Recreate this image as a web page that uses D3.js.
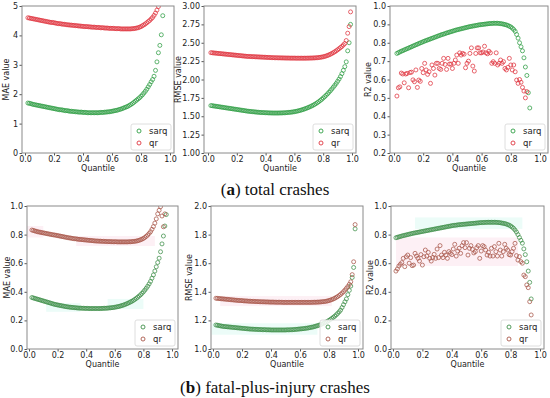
<!DOCTYPE html>
<html>
<head>
<meta charset="utf-8">
<script src="https://cdn.jsdelivr.net/npm/d3@7"></script>
<style>
  body { margin: 0; background: #fff; }
</style>
</head>
<body>
<svg id="chart" width="550" height="398"></svg>
<script>
// quantile levels shared by every series (values list index -> quantile)
var quantiles = [0.02,0.03,0.04,0.05,0.06,0.07,0.08,0.09,0.10,0.11,
  0.12,0.13,0.14,0.15,0.16,0.17,0.18,0.19,0.20,0.21,
  0.22,0.23,0.24,0.25,0.26,0.27,0.28,0.29,0.30,0.31,
  0.32,0.33,0.34,0.35,0.36,0.37,0.38,0.39,0.40,0.41,
  0.42,0.43,0.44,0.45,0.46,0.47,0.48,0.49,0.50,0.51,
  0.52,0.53,0.54,0.55,0.56,0.57,0.58,0.59,0.60,0.61,
  0.62,0.63,0.64,0.65,0.66,0.67,0.68,0.69,0.70,0.71,
  0.72,0.73,0.74,0.75,0.76,0.77,0.78,0.79,0.80,0.81,
  0.82,0.83,0.84,0.85,0.86,0.87,0.88,0.89,0.90,0.91,
  0.92,0.93,0.94,0.95,0.96,0.97,0.98,0.99]

// (a) total crashes
var maeTotalSarq = [1.70,1.69,1.68,1.66,1.65,1.64,1.63,1.62,1.61,1.60,
  1.59,1.58,1.57,1.56,1.55,1.54,1.53,1.52,1.51,1.50,
  1.49,1.48,1.47,1.47,1.46,1.45,1.44,1.44,1.43,1.42,
  1.42,1.41,1.41,1.40,1.40,1.39,1.39,1.39,1.38,1.38,
  1.38,1.37,1.37,1.37,1.37,1.37,1.37,1.37,1.37,1.37,
  1.38,1.38,1.38,1.39,1.39,1.40,1.40,1.41,1.42,1.43,
  1.44,1.45,1.46,1.48,1.49,1.51,1.53,1.55,1.57,1.59,
  1.62,1.65,1.68,1.72,1.76,1.80,1.84,1.88,1.93,1.98,
  2.04,2.10,2.17,2.25,2.33,2.42,2.50,2.61,2.81,3.10,
  3.41,3.66,4.02,4.67]
var maeTotalQr = [4.60,4.59,4.58,4.57,4.56,4.55,4.54,4.53,4.52,4.51,
  4.50,4.49,4.48,4.47,4.46,4.45,4.44,4.44,4.43,4.42,
  4.41,4.40,4.40,4.39,4.38,4.38,4.37,4.36,4.36,4.35,
  4.35,4.34,4.34,4.33,4.33,4.32,4.32,4.31,4.31,4.30,
  4.30,4.30,4.29,4.29,4.28,4.28,4.28,4.27,4.27,4.27,
  4.26,4.26,4.26,4.25,4.25,4.25,4.24,4.24,4.24,4.24,
  4.23,4.23,4.23,4.23,4.22,4.22,4.22,4.22,4.22,4.22,
  4.22,4.22,4.23,4.23,4.24,4.25,4.26,4.28,4.30,4.33,
  4.36,4.39,4.43,4.47,4.51,4.56,4.61,4.68,4.76,4.86,
  4.98]
var rmseTotalSarq = [1.645,1.643,1.640,1.637,1.634,1.631,1.628,1.625,1.622,1.619,
  1.616,1.613,1.610,1.607,1.604,1.601,1.598,1.595,1.592,1.589,
  1.586,1.583,1.580,1.577,1.574,1.571,1.568,1.566,1.564,1.562,
  1.560,1.558,1.556,1.554,1.552,1.551,1.550,1.549,1.548,1.547,
  1.546,1.545,1.545,1.544,1.544,1.544,1.544,1.544,1.545,1.545,
  1.546,1.547,1.548,1.550,1.552,1.554,1.556,1.559,1.562,1.566,
  1.570,1.575,1.580,1.586,1.592,1.599,1.606,1.614,1.622,1.631,
  1.640,1.650,1.661,1.673,1.686,1.700,1.715,1.731,1.748,1.766,
  1.785,1.805,1.826,1.848,1.871,1.895,1.920,1.946,1.975,2.005,
  2.040,2.080,2.125,2.175,2.240,2.390,2.500,2.750]
var rmseTotalQr = [2.365,2.363,2.361,2.359,2.357,2.355,2.353,2.351,2.349,2.347,
  2.345,2.343,2.341,2.339,2.337,2.335,2.333,2.331,2.329,2.327,
  2.325,2.323,2.321,2.319,2.317,2.315,2.314,2.313,2.312,2.311,
  2.310,2.309,2.308,2.307,2.306,2.305,2.304,2.303,2.302,2.301,
  2.300,2.299,2.298,2.297,2.296,2.296,2.295,2.295,2.294,2.294,
  2.293,2.293,2.292,2.292,2.292,2.291,2.291,2.291,2.291,2.290,
  2.290,2.290,2.290,2.290,2.290,2.290,2.290,2.291,2.291,2.292,
  2.292,2.293,2.294,2.295,2.297,2.299,2.302,2.305,2.309,2.314,
  2.320,2.327,2.335,2.344,2.354,2.365,2.377,2.390,2.404,2.419,
  2.435,2.450,2.470,2.490,2.530,2.630,2.720,2.920]
var r2TotalSarq = [0.742,0.746,0.750,0.754,0.757,0.761,0.764,0.768,0.771,0.775,
  0.778,0.782,0.785,0.789,0.792,0.796,0.799,0.802,0.806,0.809,
  0.812,0.815,0.818,0.821,0.824,0.827,0.830,0.833,0.836,0.839,
  0.842,0.845,0.847,0.850,0.853,0.855,0.858,0.860,0.863,0.865,
  0.868,0.870,0.872,0.874,0.876,0.878,0.880,0.882,0.884,0.886,
  0.888,0.889,0.891,0.892,0.894,0.895,0.897,0.898,0.899,0.900,
  0.901,0.902,0.903,0.904,0.905,0.905,0.906,0.906,0.906,0.906,
  0.905,0.904,0.903,0.901,0.899,0.897,0.894,0.890,0.886,0.880,
  0.872,0.862,0.845,0.825,0.800,0.778,0.756,0.718,0.668,0.622,
  0.528,0.445]
var r2TotalQr = [0.510,0.555,0.560,0.635,0.630,0.582,0.630,0.633,0.555,0.638,
  0.640,0.598,0.588,0.652,0.557,0.597,0.590,0.660,0.637,0.688,
  0.652,0.628,0.642,0.579,0.679,0.660,0.624,0.688,0.688,0.660,
  0.655,0.688,0.715,0.682,0.655,0.715,0.684,0.684,0.660,0.688,
  0.706,0.733,0.688,0.745,0.733,0.742,0.738,0.664,0.688,0.700,
  0.742,0.772,0.673,0.646,0.742,0.772,0.772,0.745,0.745,0.750,
  0.781,0.745,0.740,0.754,0.745,0.688,0.697,0.688,0.745,0.679,
  0.688,0.706,0.688,0.697,0.660,0.652,0.666,0.715,0.679,0.652,
  0.679,0.642,0.597,0.579,0.600,0.585,0.557,0.537,0.500,0.534]

// (b) fatal-plus-injury crashes
var maeFatalSarq = [0.360,0.357,0.354,0.351,0.348,0.345,0.342,0.339,0.336,0.333,
  0.330,0.327,0.324,0.321,0.318,0.315,0.312,0.310,0.308,0.306,
  0.304,0.302,0.300,0.298,0.296,0.295,0.293,0.292,0.291,0.290,
  0.289,0.288,0.287,0.286,0.286,0.285,0.285,0.284,0.284,0.284,
  0.283,0.283,0.283,0.283,0.283,0.283,0.283,0.283,0.283,0.284,
  0.284,0.285,0.285,0.286,0.287,0.288,0.289,0.290,0.292,0.294,
  0.296,0.298,0.301,0.304,0.307,0.311,0.315,0.319,0.324,0.329,
  0.334,0.340,0.347,0.354,0.362,0.370,0.379,0.389,0.400,0.412,
  0.425,0.439,0.455,0.473,0.495,0.518,0.545,0.575,0.605,0.635,
  0.680,0.735,0.790,0.860,0.940]
var maeFatalQr = [0.832,0.829,0.826,0.823,0.820,0.818,0.816,0.814,0.812,0.810,
  0.808,0.806,0.804,0.802,0.800,0.798,0.797,0.795,0.793,0.791,
  0.789,0.787,0.785,0.783,0.781,0.779,0.777,0.776,0.774,0.772,
  0.771,0.770,0.768,0.767,0.766,0.765,0.764,0.763,0.762,0.761,
  0.760,0.759,0.758,0.757,0.756,0.755,0.755,0.754,0.754,0.753,
  0.753,0.752,0.752,0.751,0.751,0.751,0.750,0.750,0.750,0.750,
  0.749,0.749,0.749,0.749,0.749,0.749,0.749,0.749,0.750,0.750,
  0.751,0.752,0.753,0.755,0.757,0.760,0.764,0.768,0.773,0.780,
  0.788,0.797,0.808,0.820,0.837,0.856,0.880,0.910,0.945,0.970,
  0.995,0.930,0.855,0.945]
var rmseFatalSarq = [1.168,1.166,1.164,1.162,1.160,1.158,1.157,1.156,1.155,1.154,
  1.153,1.152,1.151,1.150,1.149,1.148,1.147,1.146,1.145,1.144,
  1.143,1.142,1.141,1.140,1.139,1.139,1.138,1.138,1.137,1.137,
  1.136,1.136,1.135,1.135,1.135,1.134,1.134,1.134,1.133,1.133,
  1.133,1.133,1.133,1.133,1.133,1.133,1.133,1.133,1.133,1.134,
  1.134,1.134,1.135,1.135,1.136,1.137,1.138,1.139,1.140,1.141,
  1.142,1.143,1.145,1.146,1.148,1.150,1.152,1.154,1.157,1.160,
  1.163,1.166,1.170,1.174,1.178,1.183,1.188,1.194,1.200,1.207,
  1.214,1.222,1.230,1.239,1.249,1.260,1.272,1.290,1.310,1.330,
  1.350,1.380,1.410,1.440,1.500,1.570,1.840]
var rmseFatalQr = [1.355,1.354,1.353,1.352,1.351,1.350,1.349,1.348,1.347,1.346,
  1.345,1.344,1.343,1.342,1.341,1.340,1.339,1.339,1.338,1.337,
  1.336,1.336,1.335,1.334,1.334,1.333,1.333,1.332,1.332,1.331,
  1.331,1.330,1.330,1.330,1.329,1.329,1.329,1.328,1.328,1.328,
  1.328,1.327,1.327,1.327,1.327,1.327,1.326,1.326,1.326,1.326,
  1.326,1.326,1.326,1.326,1.326,1.326,1.326,1.326,1.326,1.326,
  1.326,1.326,1.326,1.326,1.326,1.326,1.326,1.327,1.327,1.327,
  1.328,1.328,1.329,1.330,1.331,1.332,1.334,1.336,1.339,1.342,
  1.346,1.350,1.355,1.361,1.367,1.374,1.382,1.391,1.401,1.412,
  1.424,1.437,1.452,1.470,1.520,1.610,1.870]
var r2FatalSarq = [0.778,0.781,0.784,0.787,0.790,0.793,0.795,0.798,0.800,0.803,
  0.805,0.808,0.810,0.812,0.814,0.816,0.818,0.820,0.822,0.824,
  0.826,0.828,0.830,0.832,0.834,0.836,0.838,0.840,0.842,0.844,
  0.846,0.848,0.850,0.852,0.854,0.856,0.858,0.860,0.862,0.864,
  0.865,0.866,0.868,0.869,0.870,0.871,0.872,0.873,0.874,0.875,
  0.876,0.877,0.878,0.879,0.880,0.881,0.882,0.883,0.884,0.884,
  0.885,0.885,0.886,0.886,0.886,0.886,0.886,0.886,0.886,0.885,
  0.884,0.883,0.881,0.879,0.877,0.874,0.870,0.866,0.860,0.853,
  0.844,0.832,0.818,0.800,0.780,0.760,0.740,0.700,0.660,0.610,
  0.545,0.466,0.350]
var r2FatalQr = [0.545,0.560,0.580,0.592,0.604,0.634,0.576,0.645,0.657,0.600,
  0.639,0.583,0.587,0.669,0.650,0.634,0.615,0.660,0.587,0.645,
  0.692,0.650,0.676,0.634,0.615,0.640,0.662,0.634,0.699,0.639,
  0.723,0.657,0.639,0.676,0.657,0.634,0.681,0.669,0.660,0.699,
  0.732,0.650,0.685,0.704,0.669,0.723,0.744,0.709,0.744,0.657,
  0.704,0.723,0.697,0.672,0.681,0.709,0.723,0.634,0.685,0.723,
  0.716,0.692,0.657,0.676,0.650,0.704,0.650,0.716,0.681,0.650,
  0.739,0.692,0.650,0.681,0.732,0.704,0.692,0.660,0.657,0.681,
  0.704,0.739,0.653,0.622,0.646,0.611,0.600,0.517,0.506,0.448,
  0.429,0.331,0.238]

// tick labels
var xTicks = [0, 0.2, 0.4, 0.6, 0.8, 1.0]
var yTicksMaeTotal = [0, 1, 2, 3, 4, 5]
var yTicksRmseTotal = [1.00, 1.25, 1.50, 1.75, 2.00, 2.25, 2.50, 2.75, 3.00]
var yTicksR2Total = [0.2, 0.3, 0.4, 0.5, 0.6, 0.7, 0.8, 0.9, 1.0]
var yTicksUnit = [0.0, 0.2, 0.4, 0.6, 0.8, 1.0]
var yTicksRmseFatal = [1.0, 1.2, 1.4, 1.6, 1.8, 2.0]
var seriesNames = ["sarq", "qr"]
var captions = [
  { letter: "a", text: " total crashes" },
  { letter: "b", text: " fatal-plus-injury crashes" }
]

var sans = "'DejaVu Sans', sans-serif"
var topColors = ["#2f9e44", "#e0353f"]
var botColors = ["#3f8f4a", "#a8574a"]
var pink = "#fdf0f5", cyan = "#ecfcf8"

// layout of the six axes (pixel boxes)
var panels = [
  { sarq: maeTotalSarq, qr: maeTotalQr, label: "MAE value", ylim: [0, 5], yt: yTicksMaeTotal, fmt: d3.format("d"),
    l: 22, r: 174, t: 6, b: 153, x0: 25, x1: 170, lx: 6, colors: topColors },
  { sarq: rmseTotalSarq, qr: rmseTotalQr, label: "RMSE value", ylim: [1, 3], yt: yTicksRmseTotal, fmt: d3.format(".2f"),
    l: 204, r: 356, t: 6, b: 153, x0: 208, x1: 352, lx: 178, colors: topColors },
  { sarq: r2TotalSarq, qr: r2TotalQr, label: "R2 value", ylim: [0.2, 1.0], yt: yTicksR2Total, fmt: d3.format(".1f"),
    l: 390, r: 548, t: 6, b: 153, x0: 394, x1: 540, lx: 368, colors: topColors },
  { sarq: maeFatalSarq, qr: maeFatalQr, label: "MAE value", ylim: [0, 1], yt: yTicksUnit, fmt: d3.format(".1f"),
    l: 27, r: 178, t: 206, b: 349, x0: 29, x1: 172, lx: 7, colors: botColors,
    bands: [[pink, -0.02, 0.10, 0.78, 0.86], [pink, 0.33, 0.88, 0.72, 0.79],
            [cyan, 0.12, 0.36, 0.26, 0.32], [cyan, 0.55, 0.80, 0.28, 0.35]] },
  { sarq: rmseFatalSarq, qr: rmseFatalQr, label: "RMSE value", ylim: [1, 2], yt: yTicksRmseFatal, fmt: d3.format(".1f"),
    l: 211, r: 363, t: 206, b: 349, x0: 213, x1: 358, lx: 189, colors: botColors,
    bands: [[pink, 0.05, 0.82, 1.30, 1.37], [cyan, -0.01, 0.72, 1.10, 1.18]] },
  { sarq: r2FatalSarq, qr: r2FatalQr, label: "R2 value", ylim: [0, 1], yt: yTicksUnit, fmt: d3.format(".1f"),
    l: 391, r: 544, t: 206, b: 349, x0: 393, x1: 540, lx: 370, colors: botColors,
    bands: [[cyan, 0.15, 0.88, 0.84, 0.92], [pink, 0.02, 0.85, 0.58, 0.78]] }
]

var svg = d3.select("#chart")

panels.forEach(function (p, k) {
  var x = d3.scaleLinear().domain([0, 1]).range([p.x0, p.x1])
  var y = d3.scaleLinear().domain(p.ylim).range([p.b, p.t])
  var g = svg.append("g")

  g.append("clipPath").attr("id", "clip" + k)
    .append("rect").attr("x", p.l).attr("y", p.t).attr("width", p.r - p.l).attr("height", p.b - p.t)

  // faint highlight patches seen behind the curves in row (b)
  ;(p.bands || []).forEach(function (bd) {
    g.append("rect")
      .attr("clip-path", "url(#clip" + k + ")")
      .attr("x", x(bd[1])).attr("width", x(bd[2]) - x(bd[1]))
      .attr("y", y(bd[4])).attr("height", y(bd[3]) - y(bd[4]))
      .attr("fill", bd[0])
  })

  // axes
  var xa = g.append("g").attr("transform", "translate(0," + p.b + ")")
    .call(d3.axisBottom(x).tickValues(xTicks).tickFormat(d3.format(".1f")).tickSize(2.5).tickPadding(1))
  var ya = g.append("g").attr("transform", "translate(" + p.l + ",0)")
    .call(d3.axisLeft(y).tickValues(p.yt).tickFormat(p.fmt).tickSize(2.5).tickPadding(1.5))
  ;[xa, ya].forEach(function (a) {
    a.attr("font-family", null).attr("font-size", null)
    a.select(".domain").remove()
    a.selectAll("line").attr("stroke", "#555")
    a.selectAll("text").style("font-family", sans).style("font-size", "8px").attr("fill", "#222")
  })

  // points
  var series = [p.sarq, p.qr]
  series.forEach(function (vals, s) {
    var pts = vals.map(function (v, i) { return { q: quantiles[i], v: v } })
    g.append("g").attr("clip-path", "url(#clip" + k + ")")
      .selectAll("circle").data(pts).enter().append("circle")
      .attr("cx", function (d) { return x(d.q) })
      .attr("cy", function (d) { return y(d.v) })
      .attr("r", 2)
      .attr("fill", "none")
      .attr("stroke", p.colors[s])
      .attr("stroke-width", 0.9)
      .attr("stroke-opacity", 0.85)
  })

  // frame
  g.append("rect").attr("x", p.l).attr("y", p.t).attr("width", p.r - p.l).attr("height", p.b - p.t)
    .attr("fill", "none").attr("stroke", "#8a8a8a").attr("stroke-width", 1)

  // axis labels
  g.append("text").attr("x", (p.l + p.r) / 2).attr("y", p.b + 18)
    .attr("text-anchor", "middle").style("font-family", sans).style("font-size", "8px")
    .attr("fill", "#222").text("Quantile")
  g.append("text").attr("transform", "translate(" + p.lx + "," + (p.t + p.b) / 2 + ") rotate(-90)")
    .attr("text-anchor", "middle").attr("dy", "0.35em")
    .style("font-family", sans).style("font-size", "8px").attr("fill", "#222").text(p.label)

  // legend, lower right
  var lw = 40, lh = 26
  var lg = g.append("g").attr("transform", "translate(" + (p.r - lw - 3) + "," + (p.b - lh - 3) + ")")
  lg.append("rect").attr("width", lw).attr("height", lh).attr("rx", 2)
    .attr("fill", "#fff").attr("fill-opacity", 0.85).attr("stroke", "#d6d6d6").attr("stroke-width", 0.8)
  seriesNames.forEach(function (name, s) {
    lg.append("circle").attr("cx", 8).attr("cy", 7 + s * 12).attr("r", 2)
      .attr("fill", "none").attr("stroke", p.colors[s]).attr("stroke-width", 0.9)
    lg.append("text").attr("x", 18).attr("y", 7 + s * 12).attr("dy", "0.35em")
      .style("font-family", sans).style("font-size", "8.5px").attr("fill", "#222").text(name)
  })
})

// sub-figure captions
var capY = [189, 387]
captions.forEach(function (c, i) {
  var t = svg.append("text").attr("x", 275).attr("y", capY[i]).attr("dy", "0.33em")
    .attr("text-anchor", "middle")
    .style("font-family", "'Liberation Serif', serif").style("font-size", "17px").attr("fill", "#111")
  t.append("tspan").text("(")
  t.append("tspan").style("font-weight", "bold").text(c.letter)
  t.append("tspan").text(")" + c.text)
})
</script>
</body>
</html>
